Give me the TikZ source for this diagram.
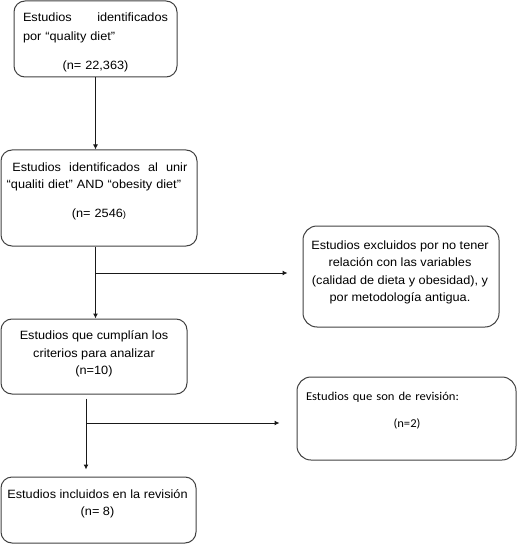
\documentclass[tikz,border=0pt]{standalone}
\usepackage{fontspec}
\setmainfont{Liberation Sans}[FakeStretch=1.06]
\newfontfamily\calibrifont{Carlito}[FakeStretch=1.05]
\usepackage{tikz}
\usetikzlibrary{arrows.meta}
\tikzset{box/.style={draw=black!75, line width=1pt, rounded corners=11pt, inner sep=0pt},
         txt/.style={inner sep=0pt, anchor=north, align=center, font=\fontsize{12}{17.4}\selectfont},
         arr/.style={draw=black!90, line width=1pt, -{Latex[length=5pt,width=5pt]}}}

\begin{document}
\begin{tikzpicture}[x=1pt, y=-1pt]
\useasboundingbox (0,0) rectangle (517,545);

%Boxes of the flow
\node[box, minimum width=163pt, minimum height=76pt] (ident) at (95.5,39) {};
\node[box, minimum width=196pt, minimum height=96pt] (union) at (99,198) {};
\node[box, minimum width=196pt, minimum height=101pt, rounded corners=14pt] (excl) at (401,276.5) {};
\node[box, minimum width=186pt, minimum height=75pt] (crit) at (94,356.5) {};
\node[box, minimum width=219pt, minimum height=83pt, rounded corners=14pt] (rev) at (406.5,418.5) {};
\node[box, minimum width=195pt, minimum height=66pt] (incl) at (98.5,510) {};

%Texts inside the boxes
\node[txt, text width=145pt] (t-ident) at (95.5,13) {Estudios\hfill identificados\\[1.2pt]por “quality diet”\hfill\null\\[11.5pt](n= 22,363)};
\node[txt, text width=180.6pt] (t-union) at (97,162.4) {\hspace*{5.6pt}Estudios\hfill identificados\hfill al\hfill unir\\“qualiti diet” AND “obesity diet”\hfill\null\\[11pt]\hspace*{4pt}(n= 2546{\small )}};
\node[txt] (t-excl) at (400,240.7) {Estudios excluidos por no tener\\relación con las variables\\(calidad de dieta y obesidad), y\\por metodología antigua.};
\node[txt] (t-crit) at (94,330.7) {Estudios que cumplían los\\criterios para analizar\\(n=10)};
\node[txt, text width=202pt, font=\calibrifont\fontsize{12}{17}\selectfont] (t-rev) at (407,392.4) {Estudios que son de revisión:\hfill\null\\[9.6pt](n=2)};
\node[txt, font=\fontsize{12}{17}\selectfont] (t-incl) at (97.5,489.7) {Estudios incluidos en la revisión\\(n= 8)};

%Branch points
\coordinate (j1) at (95,273);
\coordinate (j2) at (86,423);

%Arrows down the flow
\draw[arr] (ident.south) -- (ident.south |- union.north);
\draw[arr] (ident.south |- union.south) -- (ident.south |- crit.north);
\draw[arr, shorten <=4pt, shorten >=7pt] (j2 |- crit.south) -- (j2 |- incl.north);

%Arrows to the excluded studies
\draw[arr, shorten >=15pt] (j1) -- (j1 -| excl.west);
\draw[arr, shorten >=17pt] (j2) -- (j2 -| rev.west);

\end{tikzpicture}
\end{document}
